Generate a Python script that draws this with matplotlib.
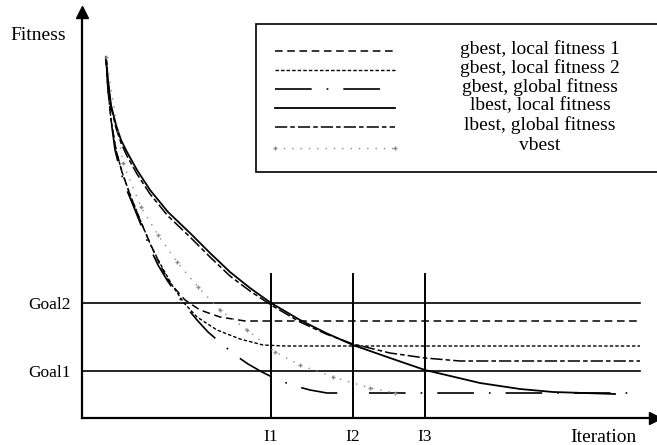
import matplotlib
matplotlib.use('Agg')
import matplotlib.pyplot as plt
from matplotlib.patches import Rectangle

plt.rcParams['font.family'] = ['Liberation Serif', 'DejaVu Serif']

# schematic curves (x = iteration, y = fitness)
gbest_local1_x = [24, 26, 29, 34, 40, 48, 58, 68, 78, 88, 103, 118, 138, 163, 558]
gbest_local1_y = [361, 328, 298, 268, 246, 223, 198, 175, 153, 135, 118, 108, 101, 97, 97]

gbest_local2_x = [24, 26, 29, 34, 40, 49, 59, 70, 80, 90, 102, 115, 135, 158, 181, 203, 558]
gbest_local2_y = [361, 328, 298, 268, 246, 221, 196, 170, 151, 133, 115, 101, 88, 79, 73, 72, 72]

gbest_global_x = [24, 26, 29, 33, 38, 44, 51, 59, 68, 76, 85, 95, 105, 115, 126,
                  140, 153, 166, 180, 196, 213, 228, 245, 558]
gbest_global_y = [361, 328, 298, 268, 248, 230, 213, 193, 170, 153, 138, 123, 110, 98, 86,
                  74, 63, 54, 46, 38, 32, 28, 25, 25]

lbest_local_x = [24, 26, 29, 34, 39, 45, 55, 68, 86, 108, 128, 148, 168, 189, 218,
                 244, 271, 308, 343, 398, 438, 471, 533]
lbest_local_y = [361, 338, 313, 293, 278, 266, 248, 228, 206, 185, 165, 146, 130, 115, 98,
                 85, 73, 60, 48, 35, 29, 26, 24]

lbest_global_x = [24, 26, 29, 34, 39, 45, 55, 68, 86, 108, 128, 148, 168, 189, 218,
                  244, 271, 308, 343, 378, 558]
lbest_global_y = [361, 336, 311, 290, 275, 262, 244, 224, 202, 181, 161, 142, 127, 113, 96,
                  84, 74, 65, 60, 57, 57]

vbest_x = [24, 41, 59, 76, 95, 116, 138, 165, 193, 218, 251, 288, 313]
vbest_y = [361, 255, 211, 183, 156, 131, 108, 88, 66, 53, 41, 30, 25]

goal_levels = [47, 115]
goal_labels = ['Goal1', 'Goal2']
iter_marks = [189, 271, 343]
iter_labels = ['I1', 'I2', 'I3']

legend_names = ['gbest, local fitness 1', 'gbest, local fitness 2',
                'gbest, global fitness', 'lbest, local fitness',
                'lbest, global fitness', 'vbest']

styles = [
    dict(color='black', lw=1.1, dashes=(5, 3)),
    dict(color='black', lw=1.0, dashes=(2.5, 1.5)),
    dict(color='black', lw=1.2, dashes=(22, 9, 1, 9)),
    dict(color='black', lw=1.3, ls='-'),
    dict(color='black', lw=1.1, dashes=(8, 2, 3, 2)),
    dict(color='#8a8a8a', lw=1.0, ls=(0, (1, 5)), marker='+', ms=3),
]
series = [(gbest_local1_x, gbest_local1_y), (gbest_local2_x, gbest_local2_y),
          (gbest_global_x, gbest_global_y), (lbest_local_x, lbest_local_y),
          (lbest_global_x, lbest_global_y), (vbest_x, vbest_y)]

W, H = 657, 445
fig = plt.figure(figsize=(W / 100, H / 100), dpi=100)
ax = fig.add_axes([82 / W, 27 / H, 573 / W, 406 / H])
ax.set_xlim(0, 573)
ax.set_ylim(0, 406)
for s in ['top', 'right']:
    ax.spines[s].set_visible(False)
for s in ['left', 'bottom']:
    ax.spines[s].set_linewidth(1.6)
ax.plot(1, 0, '>k', ms=9, transform=ax.transAxes, clip_on=False)
ax.plot(0, 1, '^k', ms=9, transform=ax.transAxes, clip_on=False)

for g in goal_levels:
    ax.plot([0, 558], [g, g], color='black', lw=1.2)
for m in iter_marks:
    ax.plot([m, m], [0, 144], color='black', lw=1.4)

for (xs, ys), st in zip(series, styles):
    ax.plot(xs, ys, **st)

ax.set_xticks(iter_marks)
ax.set_xticklabels(iter_labels, fontsize=12.5)
ax.set_yticks(goal_levels)
ax.set_yticklabels(goal_labels, fontsize=12.5)
ax.tick_params(length=0)
ax.tick_params(axis='x', pad=8)
ax.tick_params(axis='y', pad=8)

# overlay in pixel coordinates for legend and axis titles
ov = fig.add_axes([0, 0, 1, 1])
ov.set_xlim(0, W)
ov.set_ylim(H, 0)
ov.axis('off')
ov.patch.set_alpha(0)

ov.text(38, 36, 'Fitness', fontsize=14, ha='center', va='center')
ov.text(603, 437, 'Iteration', fontsize=14, ha='center', va='center')

ov.add_patch(Rectangle((256, 24), 420, 148, fill=True, facecolor='white',
                       edgecolor='black', lw=1.2))
rows = [51, 70, 89, 108, 127, 148]
for name, st, yy in zip(legend_names, styles, rows):
    ov.plot([275, 395], [yy, yy], **st)
    ov.text(540, yy - 2, name, fontsize=14, ha='center', va='center')

fig.savefig('out.png', dpi=100)
